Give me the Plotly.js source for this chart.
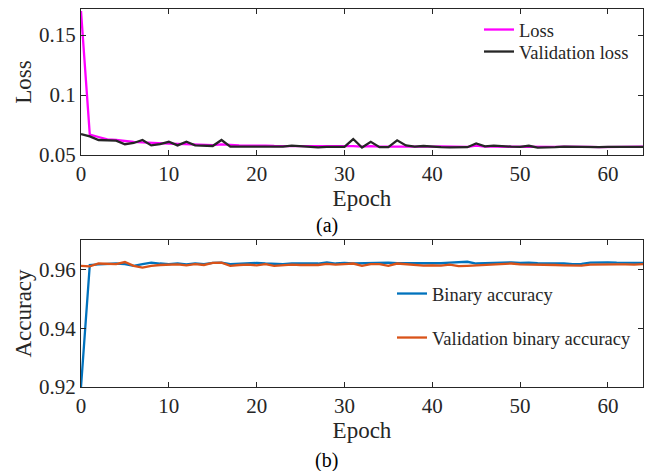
<!DOCTYPE html>
<html>
<head>
<meta charset="utf-8">
<script src="https://cdn.plot.ly/plotly-3.0.1.min.js"></script>
<style>html,body{margin:0;padding:0;background:#fff;}#chart{width:653px;height:471px;}</style>
</head>
<body>
<div id="chart"></div>
<script>
const loss = [
  0.170, 0.067, 0.065, 0.063, 0.0625, 0.0615, 0.061, 0.0605, 0.0600, 0.0598,
  0.0595, 0.0592, 0.0590, 0.0588, 0.0585, 0.0583, 0.0588, 0.0582, 0.0580, 0.0578,
  0.0580, 0.0578, 0.0575, 0.0575, 0.0577, 0.0574, 0.0573, 0.0572, 0.0573, 0.0572,
  0.0571, 0.0574, 0.0570, 0.0574, 0.0570, 0.0569, 0.0572, 0.0570, 0.0569, 0.0570,
  0.0569, 0.0571, 0.0569, 0.0568, 0.0568, 0.0578, 0.0570, 0.0569, 0.0568, 0.0568,
  0.0567, 0.0568, 0.0567, 0.0566, 0.0568, 0.0570, 0.0571, 0.0568, 0.0567, 0.0566,
  0.0567, 0.0568, 0.0572, 0.0570, 0.0570
];
const valLoss = [
  0.0675, 0.0655, 0.0625, 0.0620, 0.0620, 0.0590, 0.0600, 0.0625, 0.0580, 0.0590,
  0.0610, 0.0580, 0.0610, 0.0580, 0.0575, 0.0575, 0.0625, 0.0570, 0.0570, 0.0570,
  0.0572, 0.0568, 0.0568, 0.0570, 0.0578, 0.0572, 0.0568, 0.0563, 0.0567, 0.0570,
  0.0568, 0.0633, 0.0562, 0.0610, 0.0565, 0.0565, 0.0622, 0.0580, 0.0570, 0.0575,
  0.0568, 0.0565, 0.0563, 0.0563, 0.0565, 0.0597, 0.0572, 0.0578, 0.0572, 0.0570,
  0.0568, 0.0577, 0.0562, 0.0562, 0.0566, 0.0570, 0.0568, 0.0566, 0.0565, 0.0565,
  0.0567, 0.0567, 0.0565, 0.0566, 0.0568
];
const acc = [
  0.920, 0.9615, 0.9617, 0.9618, 0.9620, 0.9618, 0.9612, 0.9618, 0.9623, 0.9620,
  0.9618, 0.9620, 0.9617, 0.9620, 0.9618, 0.9622, 0.9623, 0.9618, 0.9620, 0.9621,
  0.9622, 0.9620, 0.9618, 0.9618, 0.9620, 0.9621, 0.9620, 0.9620, 0.9624, 0.9620,
  0.9622, 0.9620, 0.9621, 0.9621, 0.9624, 0.9623, 0.9621, 0.9621, 0.9620, 0.9621,
  0.9622, 0.9621, 0.9623, 0.9624, 0.9626, 0.9620, 0.9622, 0.9622, 0.9623, 0.9624,
  0.9622, 0.9623, 0.9621, 0.9621, 0.9620, 0.9620, 0.9618, 0.9619, 0.9623, 0.9624,
  0.9624, 0.9623, 0.9623, 0.9622, 0.9622
];
const valAcc = [
  0.9612, 0.9610, 0.9620, 0.9618, 0.9618, 0.9625, 0.9612, 0.9606, 0.9612, 0.9615,
  0.9615, 0.9617, 0.9614, 0.9618, 0.9615, 0.9622, 0.9623, 0.9612, 0.9615, 0.9616,
  0.9614, 0.9618, 0.9612, 0.9615, 0.9616, 0.9615, 0.9616, 0.9615, 0.9619, 0.9616,
  0.9618, 0.9620, 0.9612, 0.9618, 0.9618, 0.9612, 0.9620, 0.9618, 0.9616, 0.9613,
  0.9614, 0.9613, 0.9616, 0.9611, 0.9612, 0.9614, 0.9616, 0.9618, 0.9618, 0.9620,
  0.9617, 0.9617, 0.9616, 0.9616, 0.9615, 0.9614, 0.9614, 0.9613, 0.9616, 0.9617,
  0.9616, 0.9617, 0.9617, 0.9616, 0.9618
];
const epochs = loss.map((_, i) => i);
const xTicks = [0, 10, 20, 30, 40, 50, 60];
const lossTicks = [0.05, 0.1, 0.15];
const lossTickText = ['0.05', '0.1', '0.15'];
const accTicks = [0.92, 0.94, 0.96];
const accTickText = ['0.92', '0.94', '0.96'];

const FONT = 'Liberation Serif, Times New Roman, serif';
const INK = '#262626';

const traces = [
  {x: epochs, y: loss, name: 'Loss', type: 'scatter', mode: 'lines',
   line: {color: '#FF00FF', width: 2.3}, xaxis: 'x', yaxis: 'y', legend: 'legend'},
  {x: epochs, y: valLoss, name: 'Validation loss', type: 'scatter', mode: 'lines',
   line: {color: INK, width: 2.3}, xaxis: 'x', yaxis: 'y', legend: 'legend2'},
  {x: epochs, y: acc, name: 'Binary accuracy', type: 'scatter', mode: 'lines',
   line: {color: '#0072BD', width: 2.3}, xaxis: 'x2', yaxis: 'y2', legend: 'legend3'},
  {x: epochs, y: valAcc, name: 'Validation binary accuracy', type: 'scatter', mode: 'lines',
   line: {color: '#D95319', width: 2.3}, xaxis: 'x2', yaxis: 'y2', legend: 'legend4'}
];

const axisCommon = {
  showline: true, mirror: 'ticks', linecolor: INK, linewidth: 1,
  ticks: 'inside', ticklen: 5, tickcolor: INK, tickwidth: 1,
  showgrid: false, zeroline: false,
  tickfont: {family: FONT, size: 21, color: INK}
};
const titleFont = {family: FONT, size: 23, color: INK};

function leg(x, yc) {
  return {
    x: x/653, y: 1 - yc/471, xanchor: 'left', yanchor: 'middle',
    bgcolor: 'rgba(0,0,0,0)', borderwidth: 0,
    font: {family: FONT, size: 18.5, color: INK}
  };
}

const layout = {
  width: 653, height: 471,
  margin: {l: 0, r: 0, t: 0, b: 0},
  paper_bgcolor: '#fff', plot_bgcolor: '#fff',
  font: {family: FONT, color: INK},
  xaxis: Object.assign({}, axisCommon, {
    domain: [81/653, 643/653], range: [0, 64], tickvals: xTicks, anchor: 'y',
    title: {text: 'Epoch', font: titleFont, standoff: 3}
  }),
  yaxis: Object.assign({}, axisCommon, {
    domain: [1 - 155/471, 1 - 9/471], range: [0.05, 0.1717], tickvals: lossTicks, ticktext: lossTickText, anchor: 'x',
    title: {text: 'Loss', font: titleFont, standoff: 0}
  }),
  xaxis2: Object.assign({}, axisCommon, {
    domain: [81/653, 643/653], range: [0, 64], tickvals: xTicks, anchor: 'y2',
    title: {text: 'Epoch', font: titleFont, standoff: 3}
  }),
  yaxis2: Object.assign({}, axisCommon, {
    domain: [1 - 387/471, 1 - 240/471], range: [0.92, 0.97], tickvals: accTicks, ticktext: accTickText, anchor: 'x2',
    title: {text: 'Accuracy', font: titleFont, standoff: 0}
  }),
  legend: leg(479, 30),
  legend2: leg(479, 52),
  legend3: leg(392, 294),
  legend4: leg(392, 338),
  annotations: [
    {text: '(a)', x: 0.5, y: 1 - 225/471, xref: 'paper', yref: 'paper', showarrow: false,
     xanchor: 'center', yanchor: 'middle', font: {family: FONT, size: 20, color: '#000'}},
    {text: '(b)', x: 0.5, y: 1 - 460/471, xref: 'paper', yref: 'paper', showarrow: false,
     xanchor: 'center', yanchor: 'middle', font: {family: FONT, size: 20, color: '#000'}}
  ],
  showlegend: true
};

Plotly.newPlot('chart', traces, layout, {displayModeBar: false, staticPlot: true});
</script>
</body>
</html>
